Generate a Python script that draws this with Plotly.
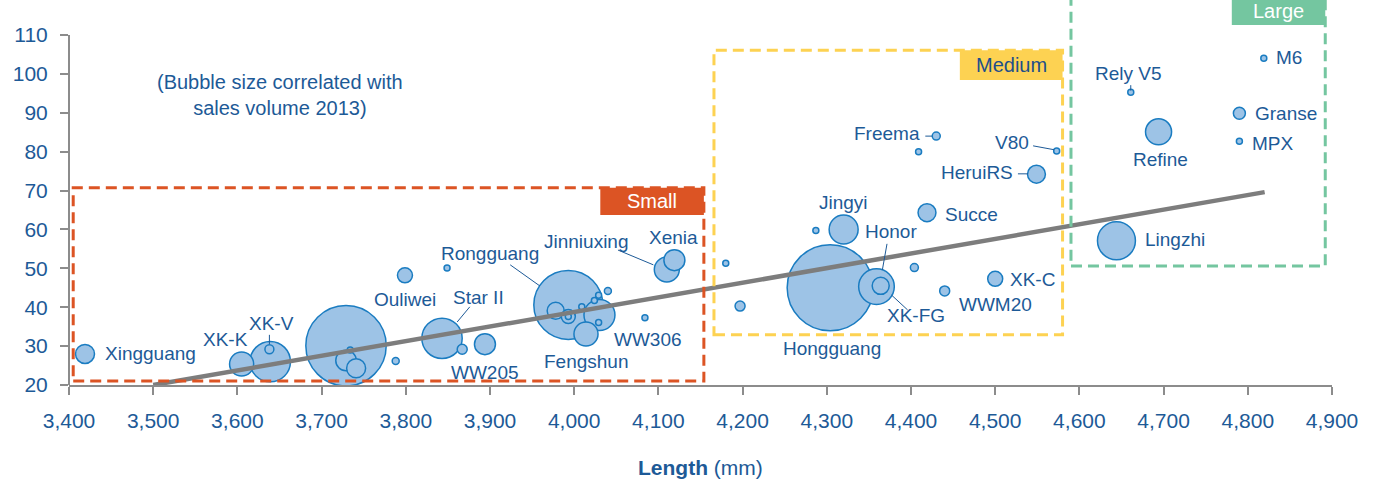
import plotly.graph_objects as go

# ---------------- data ----------------
models = ["Xingguang", "XK-K", "", "XK-V", "", "", "", "", "", "Ouliwei",
          "", "Star II", "", "WW205", "Rongguang", "", "", "", "", "WW306",
          "Fengshun", "", "", "", "", "", "Jinniuxing", "Xenia", "", "",
          "Hongguang", "Honor", "XK-FG", "Jingyi", "", "", "Succe", "WWM20", "XK-C", "Freema",
          "", "V80", "HeruiRS", "Rely V5", "Refine", "M6", "Granse", "MPX", "Lingzhi"]
length_mm = [3419, 3605, 3639, 3638, 3729, 3729, 3741, 3734, 3788, 3799,
             3849, 3843, 3867, 3894, 3993, 3978, 3993, 3993, 4009, 4030,
             4014, 4024, 4029, 4040, 4029, 4084, 4110, 4119, 4180, 4197,
             4304, 4359, 4364, 4320, 4287, 4404, 4419, 4440, 4500, 4430,
             4409, 4573, 4549, 4661, 4694, 4819, 4790, 4790, 4644]
price_k = [28.0, 25.4, 26.0, 29.2, 30.1, 26.3, 24.3, 29.0, 26.2, 48.2,
           50.1, 32.0, 29.2, 30.5, 40.6, 39.1, 37.6, 37.6, 40.1, 38.0,
           33.1, 41.7, 43.1, 44.2, 36.1, 37.3, 49.7, 52.1, 51.3, 40.3,
           45.0, 45.3, 45.5, 60.0, 59.7, 50.2, 64.3, 44.2, 47.3, 84.0,
           80.0, 80.2, 74.2, 95.3, 85.1, 104.0, 89.9, 82.7, 57.1]
sales_2013_k = [36, 58, 163, 8, 646, 42, 36, 1.6, 4.9, 22.5,
                1.6, 163, 10, 44, 476, 29, 19.6, 1.6, 1.6, 96,
                58, 1.6, 1.6, 4.9, 1.6, 1.6, 62.5, 44, 1.6, 10,
                740, 127, 29, 84, 1.6, 6.4, 32, 10, 22.5, 6.4,
                0.9, 3.6, 32, 0.9, 68, 3.6, 14.4, 3.6, 144]

trend_x = [3500, 4820]
trend_y = [20.0, 69.6]

segments = ["Small", "Medium", "Large"]
seg_x0 = [3405, 4166, 4590]
seg_x1 = [4154, 4580, 4892]
seg_y0 = [21.0, 32.9, 50.6]
seg_y1 = [70.7, 106.1, 125.0]

x_ticks = list(range(3400, 5000, 100))
y_ticks = list(range(20, 120, 10))

# ---------------- styles ----------------
TXT = "#1d5a97"
FONT = "Liberation Sans, Arial, sans-serif"
AX = "#8c8c8c"
seg_colors = ["#dc5424", "#fdd252", "#74c6a0"]
seg_label_font = ["white", "#1d4f8a", "white"]
# label box extents (x0, x1, y0, y1) in data units
seg_label_box = [(4031, 4154, 63.7, 70.7), (4458, 4580, 98.4, 106.1), (4781, 4892, 112.6, 125.0)]
seg_label_pos = [(4092, 67.2), (4519, 102.2), (4836, 116.2)]

# bubble labels: (text, x, y, xanchor)
labels = [
    ("Xingguang", 3440, 28.0, "left"),
    ("XK-K", 3586, 31.6, "center"),
    ("XK-V", 3641, 35.7, "center"),
    ("Ouliwei", 3799, 42.1, "center"),
    ("Rongguang", 3900, 53.7, "center"),
    ("Star II", 3886, 42.5, "center"),
    ("WW205", 3894, 23.1, "center"),
    ("Jinniuxing", 4015, 57.0, "center"),
    ("Xenia", 4118, 58.0, "center"),
    ("WW306", 4088, 31.6, "center"),
    ("Fengshun", 4015, 26.0, "center"),
    ("Jingyi", 4320, 66.9, "center"),
    ("Honor", 4376, 59.4, "center"),
    ("XK-FG", 4406, 38.0, "center"),
    ("Hongguang", 4306, 29.4, "center"),
    ("WWM20", 4500, 40.6, "center"),
    ("XK-C", 4515, 47.2, "left"),
    ("Succe", 4438, 63.9, "left"),
    ("Freema", 4413, 84.7, "right"),
    ("V80", 4542, 82.3, "right"),
    ("HeruiRS", 4524, 74.6, "right"),
    ("Rely V5", 4658, 100.1, "center"),
    ("Refine", 4696, 77.9, "center"),
    ("M6", 4831, 104.1, "left"),
    ("Granse", 4806, 89.9, "left"),
    ("MPX", 4803, 82.2, "left"),
    ("Lingzhi", 4676, 57.3, "left"),
]
leaders = [
    (3638, 32.9, 3638, 30.5), (3924, 50.9, 3959, 45.5), (3876, 40.1, 3861, 36.2),
    (4052, 54.7, 4094, 50.9), (4371.5, 56.3, 4366, 49.6), (4377, 43.1, 4396, 39.3),
    (4417, 84.0, 4425, 84.0), (4545, 81.5, 4570, 80.5), (4527, 74.3, 4539, 74.3),
    (4661, 97.1, 4661, 95.7),
]

# draw big bubbles first
order = sorted(range(len(sales_2013_k)), key=lambda i: -sales_2013_k[i])

fig = go.Figure()
fig.add_trace(go.Scatter(
    x=[length_mm[i] for i in order], y=[price_k[i] for i in order],
    text=[models[i] for i in order], mode="markers", hoverinfo="text+x+y",
    marker=dict(size=[sales_2013_k[i] for i in order], sizemode="area", sizeref=0.2,
                sizemin=3, color="#9dc3e6", opacity=1,
                line=dict(color="#1a7cc1", width=1.5)),
    showlegend=False,
))
fig.add_trace(go.Scatter(x=trend_x, y=trend_y, mode="lines",
                         line=dict(color="#7d7d7d", width=4.5),
                         hoverinfo="skip", showlegend=False))

shapes = []
# y axis line from 20 to 110 only
shapes.append(dict(type="line", xref="paper", yref="y", x0=0, x1=0, y0=y_ticks[0], y1=y_ticks[-1],
                   line=dict(color=AX, width=2)))
for i, s in enumerate(segments):
    shapes.append(dict(type="rect", xref="x", yref="y", x0=seg_x0[i], x1=seg_x1[i],
                       y0=seg_y0[i], y1=seg_y1[i],
                       line=dict(color=seg_colors[i], width=3, dash="11px,6px")))
    bx = seg_label_box[i]
    shapes.append(dict(type="rect", xref="x", yref="y", x0=bx[0], x1=bx[1], y0=bx[2], y1=bx[3],
                       fillcolor=seg_colors[i], line=dict(width=0)))
for (x0, y0, x1, y1) in leaders:
    shapes.append(dict(type="line", xref="x", yref="y", x0=x0, y0=y0, x1=x1, y1=y1,
                       line=dict(color=TXT, width=1)))

annotations = []
for (t, x, y, xa) in labels:
    annotations.append(dict(text=t, x=x, y=y, xref="x", yref="y", xanchor=xa, yanchor="middle",
                            showarrow=False, font=dict(size=19, color=TXT, family=FONT)))
for i, s in enumerate(segments):
    annotations.append(dict(text=s, x=seg_label_pos[i][0], y=seg_label_pos[i][1], xref="x", yref="y",
                            xanchor="center", yanchor="middle", showarrow=False,
                            font=dict(size=20, color=seg_label_font[i], family=FONT)))
annotations.append(dict(text="(Bubble size correlated with<br>sales volume 2013)", x=3650, y=94.5,
                        xref="x", yref="y", xanchor="center", yanchor="middle", showarrow=False,
                        font=dict(size=20, color=TXT, family=FONT)))
annotations.append(dict(text="<b>Length</b> (mm)", x=0.5, y=-0.215, xref="paper", yref="paper",
                        xanchor="center", yanchor="middle", showarrow=False,
                        font=dict(size=21, color=TXT, family=FONT)))

fig.update_layout(
    width=1378, height=481,
    margin=dict(l=69, r=46, t=0, b=96),
    paper_bgcolor="white", plot_bgcolor="white",
    font=dict(family=FONT, color=TXT),
    shapes=shapes, annotations=annotations,
    xaxis=dict(range=[3400, 4900], tickvals=x_ticks, tickformat=",", showgrid=False, zeroline=False,
               showline=True, linecolor=AX, linewidth=2, ticks="outside", ticklen=8,
               tickcolor=AX, tickwidth=1.5, tickfont=dict(size=21, color=TXT, family=FONT),
               ticklabelstandoff=8),
    yaxis=dict(range=[20, 119.0], tickvals=y_ticks, showgrid=False, zeroline=False, showline=False,
               ticks="outside", ticklen=8, tickcolor=AX, tickwidth=1.5,
               tickfont=dict(size=21, color=TXT, family=FONT), ticklabelstandoff=8),
)
fig.write_html("out.html")
